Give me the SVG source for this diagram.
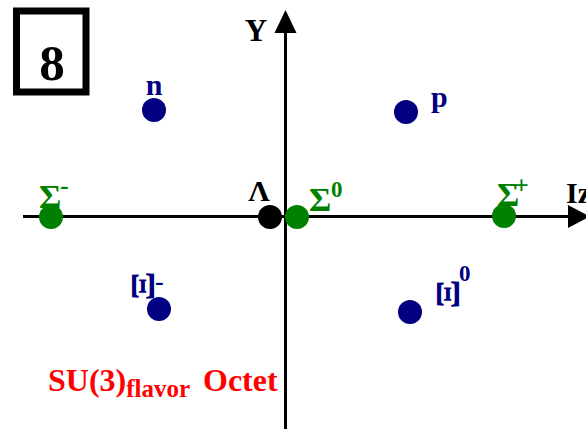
<svg xmlns="http://www.w3.org/2000/svg" width="586" height="429" viewBox="0 0 586 429">
<style>
text{font-family:"Liberation Serif","Times New Roman",serif;font-weight:bold}
.navy{fill:#000080}
.green{fill:#008000}
.blk{fill:#000}
.axis{stroke:#000;stroke-width:3;fill:none}
.lbl{font-size:30px}
.sig{font-size:34px}
.sup{font-size:23px}
</style>
<g id="box">
<rect x="16.5" y="11" width="69.5" height="81" fill="none" stroke="#000" stroke-width="7"/>
<text x="52" y="80" font-size="51" text-anchor="middle" class="blk">8</text>
</g>
<g id="connectors">
<line class="axis" x1="285.5" y1="429" x2="285.5" y2="30"/>
<polygon points="285.5,10 274.5,33 296.5,33" fill="#000"/>
<line class="axis" x1="23" y1="216.5" x2="572" y2="216.5"/>
<polygon points="590,216.5 568,205 568,228" fill="#000"/>
</g>
<g id="axis-labels">
<text x="256" y="41" font-size="31" text-anchor="middle" class="blk">Y</text>
<text x="566" y="203" font-size="30" class="blk">Iz</text>
</g>
<g id="n">
<circle cx="154" cy="110" r="12" class="navy"/>
<text x="154" y="95" class="lbl navy" text-anchor="middle">n</text>
</g>
<g id="p">
<circle cx="406" cy="112" r="12" class="navy"/>
<text x="431" y="107" class="lbl navy">p</text>
</g>
<g id="sigma-minus">
<circle cx="51" cy="217" r="12" class="green"/>
<text x="39" y="208" class="sig green">Σ</text>
<text x="60" y="194" font-size="26" class="green">-</text>
</g>
<g id="lambda">
<circle cx="270" cy="217" r="12" class="blk"/>
<text x="259" y="201" class="lbl blk" text-anchor="middle">Λ</text>
</g>
<g id="sigma-zero">
<circle cx="297" cy="217" r="12" class="green"/>
<text x="309" y="211" class="sig green">Σ</text>
<text x="331" y="197" class="sup green">0</text>
</g>
<g id="sigma-plus">
<circle cx="504" cy="216" r="12" class="green"/>
<text x="497" y="206" class="sig green">Σ</text>
<text x="514" y="194" font-size="26" class="green">+</text>
</g>
<g id="xi-minus">
<circle cx="159" cy="309" r="12" class="navy"/>
<text transform="translate(154,286) rotate(-90) scale(1.45,1.1)" class="lbl navy" text-anchor="middle">Ξ</text>
<text x="155" y="290" font-size="26" class="navy">-</text>
</g>
<g id="xi-zero">
<circle cx="410" cy="312" r="12" class="navy"/>
<text transform="translate(459,294) rotate(-90) scale(1.45,1.1)" class="lbl navy" text-anchor="middle">Ξ</text>
<text x="459" y="281" class="sup navy">0</text>
</g>
<g id="title">
<text x="48" y="391" font-size="32" fill="#ff0000">SU(3)<tspan font-size="25" dy="6">flavor</tspan><tspan dy="-6" x="203">Octet</tspan></text>
</g>
</svg>
